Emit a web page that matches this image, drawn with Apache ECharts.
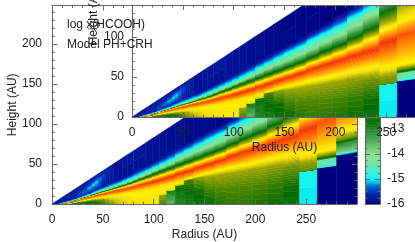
<!DOCTYPE html>
<html><head><meta charset="utf-8">
<style>html,body{margin:0;padding:0;background:#fff}#c{width:415px;height:242px}</style>
<script src="https://cdn.jsdelivr.net/npm/echarts@6/dist/echarts.min.js"></script>
</head><body><div id="c"></div>
<script>
const radiusEdges=[0,10,15,20,25,30,35,39.5,42.5,45.5,49,52.5,56.5,60.5,65,69.5,74.5,80,85.5,92,98.5,105.5,113,121.5,130,139.5,149.5,160.5,172,184.5,197.5,212,227.5,243.5,261,280,300];
// log x(HCOOH) per radial column, as pairs of (height / radius, value) from midplane to disk surface
const logX=[
[0,-10.6,.05,-10.2,.1,-11.2,.14,-12.7,.18,-15,.25,-15.7,.83,-15.7],
[0,-11.2,.06,-10.6,.12,-10.2,.16,-11.2,.18,-12.7,.2,-14.2,.22,-15,.3,-15.7,.83,-15.7],
[0,-13.6,.05,-12,.1,-10.8,.15,-10.2,.19,-11.2,.21,-12.7,.23,-14.2,.26,-15,.32,-15.6,.83,-15.8],
[0,-13.5,.07,-12.5,.13,-11.2,.19,-10.2,.22,-11.2,.24,-12.7,.26,-14.2,.28,-15,.34,-15.7,.42,-15.6,.83,-15.8],
[0,-13.2,.08,-12.6,.15,-11.2,.22,-10.2,.25,-11.2,.27,-12.7,.29,-14.2,.31,-15,.36,-15.6,.45,-15.45,.55,-15.6,.83,-15.8],
[0,-12.9,.09,-12.6,.16,-11.2,.24,-10.2,.265,-11.2,.285,-12.7,.305,-14.2,.33,-15,.38,-15.6,.5,-15.3,.62,-15.6,.83,-15.8],
[0,-12.8,.09,-12.6,.165,-11.2,.25,-10.2,.28,-11.2,.3,-12.7,.32,-14.2,.345,-15,.39,-15.6,.55,-15.12,.7,-15.6,.83,-15.8],
[0,-12.8,.09,-12.5,.17,-11.2,.26,-10.2,.29,-11.2,.31,-12.7,.33,-14.2,.36,-15,.41,-15.6,.6,-15.02,.74,-15.6,.83,-15.8],
[0,-12.7,.09,-12.4,.175,-11.2,.26,-10.2,.295,-11.2,.315,-12.7,.335,-14.2,.37,-15,.42,-15.6,.63,-15.05,.77,-15.6,.83,-15.8],
[0,-12.6,.09,-12.2,.175,-11.2,.265,-10.2,.3,-11.2,.32,-12.7,.345,-14.2,.375,-15,.43,-15.6,.66,-15.25,.8,-15.7,.83,-15.8],
[0,-12.4,.09,-12,.18,-11.2,.265,-10.2,.3,-11.2,.325,-12.7,.35,-14.2,.38,-15,.44,-15.7,.7,-15.45,.83,-15.8],
[0,-12.1,.09,-11.8,.18,-11.2,.265,-10.2,.305,-11.2,.325,-12.7,.35,-14.2,.385,-15,.45,-15.7,.72,-15.6,.83,-15.8],
[0,-11.9,.09,-11.6,.185,-11.15,.27,-10.2,.305,-11.2,.33,-12.7,.355,-14.2,.39,-15,.46,-15.7,.75,-15.65,.83,-15.8],
[0,-11.7,.1,-11.45,.185,-11.1,.27,-10.2,.31,-11.2,.335,-12.7,.36,-14.2,.395,-15,.47,-15.8,.83,-15.75],
[0,-11.55,.1,-11.4,.19,-11.1,.27,-10.2,.31,-11.2,.34,-12.7,.37,-14.2,.4,-15,.47,-15.8,.83,-15.75],
[0,-11.45,.1,-11.3,.19,-11.05,.27,-10.2,.31,-11.2,.34,-12.7,.37,-14.2,.41,-15,.48,-15.8,.83,-15.7],
[0,-11.35,.1,-11.25,.195,-11.05,.27,-10.2,.315,-11.2,.345,-12.7,.38,-14.2,.42,-15,.49,-15.8,.83,-15.7],
[0,-11.3,.1,-11.2,.2,-11.0,.275,-10.2,.32,-11.2,.355,-12.7,.39,-14.2,.43,-15,.5,-15.8,.83,-15.7],
[0,-11.3,.1,-11.2,.2,-11.0,.28,-10.15,.325,-11.2,.365,-12.7,.4,-14.2,.44,-15,.51,-15.8,.83,-15.7],
[0,-11.25,.1,-11.2,.21,-11.0,.28,-10.15,.33,-11.2,.37,-12.7,.41,-14.2,.45,-15,.52,-15.8,.83,-15.75],
[0,-11.25,.1,-11.2,.215,-11.0,.285,-10.1,.335,-11.2,.38,-12.7,.42,-14.2,.46,-15,.53,-15.8,.83,-15.8],
[0,-12.2,.1,-11.9,.112,-11.7,.118,-11.25,.22,-11.0,.29,-10.1,.34,-11.2,.385,-12.7,.43,-14.2,.47,-15,.54,-15.8,.83,-15.8],
[0,-13.6,.08,-13.2,.145,-12.8,.152,-11.3,.225,-11.0,.295,-10.1,.345,-11.2,.39,-12.7,.44,-14.2,.48,-15,.55,-15.8,.83,-15.85],
[0,-13,.1,-12.9,.185,-12.6,.195,-11.4,.235,-11.0,.305,-10.1,.355,-11.2,.395,-12.7,.455,-14.2,.5,-15,.56,-15.8,.83,-15.85],
[0,-12.9,.12,-12.7,.225,-12.3,.237,-11.3,.245,-11.0,.31,-10.1,.36,-11.2,.4,-12.7,.465,-14.2,.51,-15,.57,-15.85,.83,-15.9],
[0,-12.8,.12,-12.6,.225,-11.9,.25,-11.15,.32,-10.1,.365,-11.2,.405,-12.7,.47,-14.2,.52,-15,.58,-15.85,.83,-15.9],
[0,-12.7,.12,-12.3,.22,-11.8,.255,-11.15,.325,-10.1,.37,-11.2,.41,-12.7,.475,-14.2,.53,-15,.585,-15.85,.83,-15.95],
[0,-12.5,.12,-12.2,.22,-11.75,.26,-11.15,.33,-10.1,.375,-11.2,.415,-12.7,.48,-14.2,.535,-15,.59,-15.9,.83,-15.95],
[0,-12.4,.12,-12.2,.22,-11.75,.26,-11.15,.34,-10.1,.385,-11.2,.425,-12.7,.49,-14.2,.55,-15,.6,-15.9,.83,-16],
[0,-12.45,.12,-12.2,.22,-11.75,.26,-11.15,.345,-10.1,.39,-11.2,.435,-12.7,.5,-14.2,.555,-15,.61,-15.95,.83,-16],
[0,-12.55,.12,-12.25,.22,-11.75,.262,-11.15,.348,-10.1,.397,-11.2,.44,-12.7,.51,-14.2,.56,-15,.62,-15.95,.83,-16],
[0,-12.65,.12,-12.35,.22,-11.8,.265,-11.15,.353,-10.1,.405,-11.2,.455,-12.7,.53,-14.2,.58,-15,.635,-16,.83,-16],
[0,-12.8,.1,-12.6,.2,-12,.265,-11.15,.354,-10.1,.418,-11.2,.47,-12.7,.55,-14.2,.59,-15,.65,-16,.83,-16],
[0,-15,.165,-14.9,.168,-12.1,.2,-11.9,.25,-11.15,.376,-10.1,.445,-11.2,.53,-12.7,.62,-14.2,.67,-15,.73,-16,.83,-16],
[0,-16,.171,-16,.174,-15,.18,-14.5,.208,-14.4,.214,-13,.227,-12,.25,-11.15,.39,-10.3,.46,-11.2,.56,-12,.62,-12.7,.7,-14.2,.76,-15,.83,-16],
[0,-16,.215,-16,.22,-15,.23,-13.8,.27,-13,.285,-12,.32,-11.15,.4,-10.4,.48,-11.2,.57,-12,.64,-12.7,.72,-14.2,.78,-15,.83,-16]
];
const rampValues=[-16,-15.6,-15.3,-15.05,-14.9,-14.5,-14,-13.4,-12.7,-12.2,-11.7,-11.35,-11.1,-10.8,-10.4,-10.1,-10];
const rampColors=['#00007f','#0022a8','#0060d8','#00e0f0','#18f8f0','#60e8b0','#88e090','#48a850','#006c00','#508800','#a8a800','#f0e000','#ffee00','#ffb000','#ff6000','#f03000','#e00000'];
const xTicks={max:300,interval:50};
const cells=[];
logX.forEach((row,i)=>{
  for(let k=0;k+3<row.length;k+=2){
    cells.push([radiusEdges[i],radiusEdges[i+1],row[k],row[k+2],row[k+1],row[k+3]]);
  }
});
const barCells=[];
for(let k=0;k+1<rampValues.length;k++)barCells.push([0,1,rampValues[k],rampValues[k+1]]);
const hex=c=>[parseInt(c.slice(1,3),16),parseInt(c.slice(3,5),16),parseInt(c.slice(5,7),16)];
function colorOf(v){
  if(v<=rampValues[0])return rampColors[0];
  for(let k=1;k<rampValues.length;k++){
    if(v<=rampValues[k]){
      const t=(v-rampValues[k-1])/(rampValues[k]-rampValues[k-1]);
      const a=hex(rampColors[k-1]),b=hex(rampColors[k]);
      return 'rgb('+a.map((x,j)=>Math.round(x+(b[j]-x)*t)).join(',')+')';
    }
  }
  return rampColors[rampColors.length-1];
}
function renderCell(p,api){
  const r0=api.value(0),r1=api.value(1),z0=api.value(2),z1=api.value(3),v0=api.value(4),v1=api.value(5);
  const n=Math.max(1,Math.ceil(Math.abs(v1-v0)/0.08));
  const children=[];
  for(let s=0;s<n;s++){
    const a=z0+(z1-z0)*s/n,b=z0+(z1-z0)*(s+1)/n,v=v0+(v1-v0)*(s+.5)/n,c=colorOf(v);
    children.push({type:'polygon',shape:{points:[
      api.coord([r0,a*r0]),api.coord([r1,a*r1]),api.coord([r1,b*r1]),api.coord([r0,b*r0])]},
      style:{fill:c,stroke:c,lineWidth:.5}});
  }
  return {type:'group',children};
}
function renderBar(p,api){
  const a=api.value(2),b=api.value(3),n=24,children=[];
  for(let s=0;s<n;s++){
    const u=a+(b-a)*s/n,w=a+(b-a)*(s+1)/n,c=colorOf((u+w)/2);
    const q=api.coord([0,u]),e=api.coord([1,w]);
    children.push({type:'rect',shape:{x:q[0],y:e[1],width:e[0]-q[0],height:q[1]-e[1]+.5},style:{fill:c}});
  }
  return {type:'group',children};
}
const INK='#222',LINE='#666',FONT='"Liberation Sans",Arial,sans-serif';
function ax(extra,z,withLabel,margin){
  return Object.assign({type:'value',z,scale:false,
    axisLine:{show:true,onZero:false,lineStyle:{color:LINE,width:1}},
    axisTick:{show:true,inside:true,length:5,lineStyle:{color:LINE,width:1}},
    minorTick:{show:true,splitNumber:5,length:2.5,lineStyle:{color:LINE,width:1}},
    splitLine:{show:false},minorSplitLine:{show:false},nameMoveOverlap:false,
    axisLabel:{show:withLabel,color:INK,fontFamily:FONT,fontSize:12,margin:margin||9,showMinLabel:true,showMaxLabel:false,hideOverlap:false},
    nameTextStyle:{color:INK,fontFamily:FONT,fontSize:12}},extra);
}
const rName={name:'Radius (AU)',nameLocation:'middle',nameGap:25};
const option={
  animation:false,
  backgroundColor:'#fff',
  grid:[
    {left:52,top:5.6,width:305,height:198.4,outerBoundsMode:'none'},
    {left:132,top:5,width:305,height:112,outerBoundsMode:'none'},
    {left:365,top:54,width:15,height:150,outerBoundsMode:'none'}
  ],
  xAxis:[
    ax(Object.assign({gridIndex:0,min:0,max:xTicks.max,interval:xTicks.interval,position:'bottom'},rName),3,true,10),
    ax({gridIndex:0,min:0,max:xTicks.max,interval:xTicks.interval,position:'top'},3,false),
    ax(Object.assign({gridIndex:1,min:0,max:xTicks.max,interval:xTicks.interval,position:'bottom'},rName),6,true,10),
    ax({gridIndex:1,min:0,max:xTicks.max,interval:xTicks.interval,position:'top'},6,false),
    ax({gridIndex:2,min:0,max:1,position:'bottom',axisTick:{show:false},minorTick:{show:false}},3,false),
    ax({gridIndex:2,min:0,max:1,position:'top',axisTick:{show:false},minorTick:{show:false}},3,false)
  ],
  yAxis:[
    ax({gridIndex:0,min:0,max:248,interval:50,position:'left',name:'Height (AU)',nameLocation:'middle',nameGap:33,nameRotate:90},3,true,10),
    ax({gridIndex:0,min:0,max:248,interval:50,position:'right'},3,false),
    ax({gridIndex:1,min:0,max:140,interval:50,position:'left'},6,true,8),
    ax({gridIndex:2,min:-16,max:-10,interval:1,position:'right',minorTick:{show:true,splitNumber:4,length:2.5,lineStyle:{color:LINE}}},3,true,7),
    ax({gridIndex:2,min:-16,max:-10,interval:1,position:'left',minorTick:{show:true,splitNumber:4,length:2.5,lineStyle:{color:LINE}}},3,false)
  ],
  series:[
    {type:'custom',xAxisIndex:0,yAxisIndex:0,z:2,clip:true,silent:true,renderItem:renderCell,data:cells},
    {type:'custom',xAxisIndex:4,yAxisIndex:3,z:2,clip:true,silent:true,renderItem:renderBar,data:barCells},
    {type:'custom',xAxisIndex:2,yAxisIndex:2,z:4,silent:true,data:[[0,0,300,140]],renderItem(p,api){
      const a=api.coord([api.value(0),api.value(1)]),b=api.coord([api.value(2),api.value(3)]);
      return {type:'rect',shape:{x:a[0],y:b[1],width:b[0]-a[0],height:a[1]-b[1]},style:{fill:'#fff'}};
    }},
    {type:'custom',xAxisIndex:2,yAxisIndex:2,z:5,clip:true,silent:true,renderItem:renderCell,data:cells}
  ],
  graphic:[
    {type:'text',z:20,left:67,top:19,style:{text:'log x(HCOOH)',fill:INK,font:'12px '+FONT}},
    {type:'text',z:20,left:67,top:39,style:{text:'Model PH+CRH',fill:INK,font:'12px '+FONT}},
    {type:'text',z:20,x:94,y:14,rotation:Math.PI/2,style:{text:'Height (AU)',fill:INK,font:'12px '+FONT,align:'center',verticalAlign:'middle'}}
  ]
};
const chart=echarts.init(document.getElementById('c'),null,{renderer:'canvas'});
chart.setOption(option);
</script></body></html>
